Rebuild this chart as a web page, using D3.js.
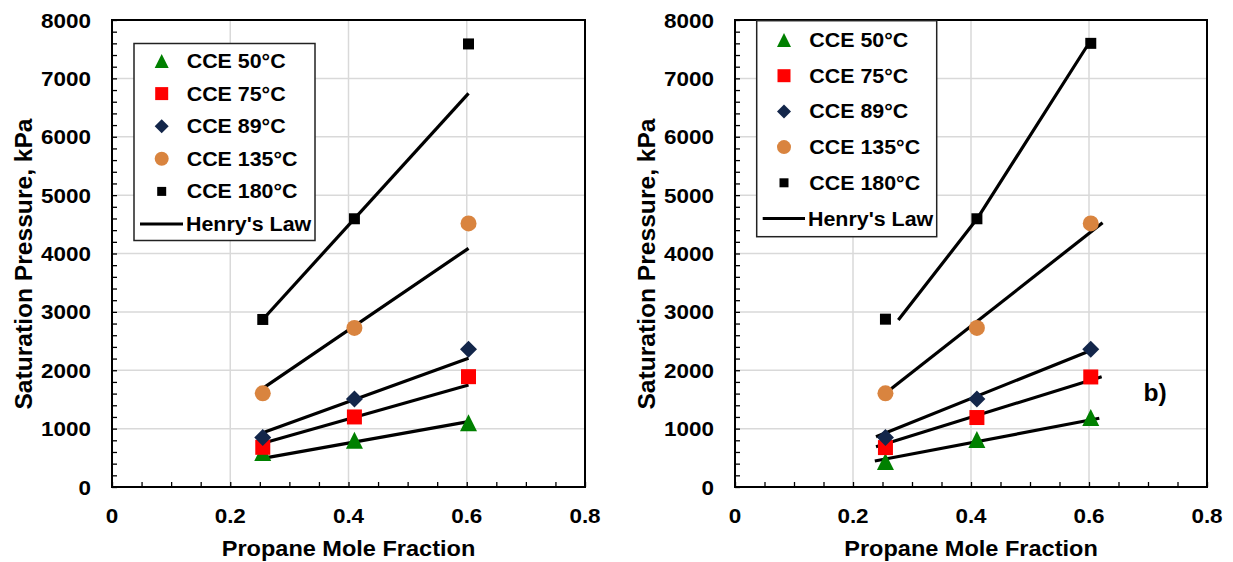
<!DOCTYPE html>
<html><head><meta charset="utf-8">
<script src="https://cdn.jsdelivr.net/npm/d3@7"></script>
<style>
body{margin:0;background:#fff}
text{font-family:"Liberation Sans",Arial,sans-serif;font-weight:bold;fill:#000}
</style>
</head><body>
<svg id="c" width="1233" height="562"></svg>
<script>
// ---------- data ----------
const seriesNames = ["CCE 50°C", "CCE 75°C", "CCE 89°C", "CCE 135°C", "CCE 180°C"];
const lineName = "Henry's Law";
const xTicks = [0, 0.2, 0.4, 0.6, 0.8];
const yTicks = [0, 1000, 2000, 3000, 4000, 5000, 6000, 7000, 8000];
const xTitle = "Propane Mole Fraction";
const yTitle = "Saturation Pressure, kPa";
const panelTag = "b)";

const xFrac = [0.255, 0.41, 0.603];

// panel a) measured
const a50 = [590, 800, 1100];
const a75 = [680, 1200, 1890];
const a89 = [850, 1507, 2358];
const a135 = [1605, 2725, 4515];
const a180 = [2870, 4595, 7590];
// panel a) Henry's law lines (end points)
const aHenryX = [0.255, 0.603];
const aH50 = [490, 1119];
const aH75 = [748, 1747];
const aH89 = [930, 2204];
const aH135 = [1690, 4089];
const aH180 = [2870, 6744];

// panel b) measured
const b50 = [435, 815, 1190];
const b75 = [675, 1190, 1885];
const b89 = [850, 1507, 2358];
const b135 = [1605, 2725, 4515];
const b180 = [2875, 4595, 7600];
// panel b) Henry's law lines
const bH50x = [0.237, 0.6175], bH50 = [445, 1177];
const bH75x = [0.239, 0.6215], bH75 = [690, 1889];
const bH89x = [0.239, 0.603], bH89 = [862, 2340];
const bH135x = [0.255, 0.623], bH135 = [1605, 4527];
const bH180x = [0.2768, 0.41, 0.596], bH180 = [2860, 4590, 7542];

// ---------- styles ----------
const styles = [
  {shape: "triangle", color: "#008000", size: 17, lsize: 14},
  {shape: "square", color: "#ff0000", size: 15, lsize: 13},
  {shape: "diamond", color: "#13264a", size: 17, lsize: 14},
  {shape: "circle", color: "#d9843f", size: 16, lsize: 14},
  {shape: "square", color: "#000000", size: 11, lsize: 9}
];
const SX = 1.07; // horizontal text stretch

function markerPath(shape, s) {
  const h = s / 2;
  if (shape === "triangle") return `M0,${-h}L${h},${h}L${-h},${h}Z`;
  if (shape === "square") return `M${-h},${-h}H${h}V${h}H${-h}Z`;
  if (shape === "diamond") return `M0,${-h}L${h},0L0,${h}L${-h},0Z`;
  return `M${h},0A${h},${h} 0 1,1 ${-h},0A${h},${h} 0 1,1 ${h},0Z`;
}

const svg = d3.select("#c");

function txt(g, x, y, s, size, anchor, rot) {
  return g.append("text")
    .attr("transform", `translate(${x},${y})` + (rot ? ` rotate(${rot})` : "") + ` scale(${SX},1)`)
    .attr("text-anchor", anchor).style("font-size", size + "px").text(s);
}

function panel(cfg) {
  const g = svg.append("g");
  const x = d3.scaleLinear().domain([0, 0.8]).range([cfg.left, cfg.right]);
  const y = d3.scaleLinear().domain([0, 8000]).range([cfg.bottom, cfg.top]);

  // grid
  g.append("g").selectAll("line").data(yTicks.filter(v => v > 0 && v < 8000)).join("line")
    .attr("x1", cfg.left).attr("x2", cfg.right).attr("y1", d => y(d)).attr("y2", d => y(d))
    .attr("stroke", "#d9d9d9").attr("stroke-width", 1.5);
  g.append("g").selectAll("line").data(xTicks.filter(v => v > 0 && v < 0.8)).join("line")
    .attr("y1", cfg.top).attr("y2", cfg.bottom).attr("x1", d => x(d)).attr("x2", d => x(d))
    .attr("stroke", "#d9d9d9").attr("stroke-width", 1.5);

  // axes with inward ticks
  const yAx = d3.axisRight(y).ticks(40).tickSize(5).tickFormat("");
  g.append("g").attr("transform", `translate(${cfg.left},0)`).call(yAx)
    .call(a => a.select(".domain").remove())
    .selectAll("line").attr("stroke", "#000").attr("stroke-width", 1.3);
  const xAx = d3.axisTop(x).tickValues(d3.range(0, 0.8001, 0.05)).tickSize(5).tickFormat("");
  g.append("g").attr("transform", `translate(0,${cfg.bottom})`).call(xAx)
    .call(a => a.select(".domain").remove())
    .selectAll("line").attr("stroke", "#000").attr("stroke-width", 1.3);

  // frame
  g.append("rect").attr("x", cfg.left).attr("y", cfg.top)
    .attr("width", cfg.right - cfg.left).attr("height", cfg.bottom - cfg.top)
    .attr("fill", "none").attr("stroke", "#000").attr("stroke-width", 2);

  // tick labels
  yTicks.forEach(v => txt(g, cfg.left - 21, y(v) + 7.5, String(v), 21, "end"));
  xTicks.forEach(v => txt(g, x(v), 523, String(v), 21, "middle"));

  // titles
  txt(g, (cfg.left + cfg.right) / 2, 556, xTitle, 22, "middle");
  txt(g, cfg.ytitleX, 264, yTitle, 23, "middle", -90);

  // Henry lines
  const line = d3.line().x(d => x(d[0])).y(d => y(d[1]));
  cfg.henry.forEach(h => {
    g.append("path").attr("d", line(d3.zip(h.x, h.v)))
      .attr("fill", "none").attr("stroke", "#000").attr("stroke-width", 3.2)
      .attr("stroke-linejoin", "round");
  });

  // markers
  cfg.series.forEach((vals, i) => {
    const st = styles[i];
    g.append("g").selectAll("path").data(d3.zip(xFrac, vals)).join("path")
      .attr("transform", d => `translate(${x(d[0])},${y(d[1])})`)
      .attr("d", markerPath(st.shape, st.size)).attr("fill", st.color);
  });

  // legend
  const L = cfg.legend;
  g.append("rect").attr("x", L.x0).attr("y", L.y0).attr("width", L.x1 - L.x0).attr("height", L.y1 - L.y0)
    .attr("fill", "#fff").attr("stroke", "#222").attr("stroke-width", 1.5);
  seriesNames.forEach((name, i) => {
    const cy = L.row0 + i * L.step;
    const st = styles[i];
    g.append("path").attr("transform", `translate(${L.mx},${cy})`)
      .attr("d", markerPath(st.shape, st.lsize)).attr("fill", st.color);
    txt(g, L.tx, cy + 7, name, 20, "start");
  });
  const cy = L.row0 + 5 * L.step;
  g.append("line").attr("x1", L.lx0).attr("x2", L.lx1).attr("y1", cy).attr("y2", cy)
    .attr("stroke", "#000").attr("stroke-width", 3);
  txt(g, L.lx1 + 3, cy + 7, lineName, 20, "start");
  return {x, y, g};
}

panel({
  left: 112, right: 585, top: 20, bottom: 487, ytitleX: 32,
  series: [a50, a75, a89, a135, a180],
  henry: [
    {x: aHenryX, v: aH50}, {x: aHenryX, v: aH75}, {x: aHenryX, v: aH89},
    {x: aHenryX, v: aH135}, {x: aHenryX, v: aH180}
  ],
  legend: {x0: 134, x1: 315, y0: 43.5, y1: 240.5, mx: 161.7, tx: 186.7, row0: 61, step: 32.6, lx0: 140, lx1: 183}
});

const pb = panel({
  left: 735, right: 1207, top: 20, bottom: 487, ytitleX: 655,
  series: [b50, b75, b89, b135, b180],
  henry: [
    {x: bH50x, v: bH50}, {x: bH75x, v: bH75}, {x: bH89x, v: bH89},
    {x: bH135x, v: bH135}, {x: bH180x, v: bH180}
  ],
  legend: {x0: 756.7, x1: 936.7, y0: 20.7, y1: 236.7, mx: 784, tx: 809.3, row0: 40, step: 35.7, lx0: 762.7, lx1: 805}
});
txt(pb.g, 1155, 401, panelTag, 23, "middle");
</script>
</body></html>
